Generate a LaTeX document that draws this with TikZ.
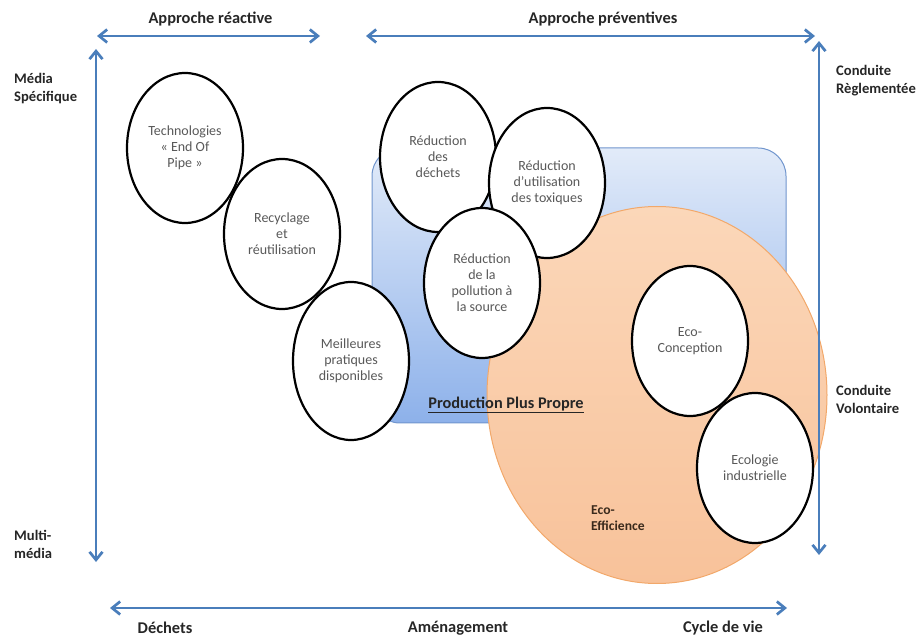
\documentclass[tikz,border=0pt]{standalone}
\usepackage{fontspec}
\setmainfont{Carlito}
\usetikzlibrary{arrows.meta,shapes.geometric}
\definecolor{axisblue}{HTML}{4A7EBB}
\definecolor{rectborder}{HTML}{7095CD}
\definecolor{recttop}{HTML}{E2EBF9}
\definecolor{rectbot}{HTML}{8DB1EA}
\definecolor{orborder}{HTML}{F2A86A}
\definecolor{ortop}{HTML}{FBD7B9}
\definecolor{orbot}{HTML}{F8C29A}
\definecolor{bubbletext}{HTML}{595959}
\definecolor{labtext}{HTML}{262626}
\definecolor{ecotext}{HTML}{3A2A1C}
\begin{document}
\begin{tikzpicture}[x=1pt,y=-1pt,
  >={Straight Barb[length=8pt,width=13pt]},
  axis/.style={draw=axisblue,line width=2.7pt,<->},
  bubble/.style={ellipse,draw=black,line width=2.2pt,fill=white,minimum width=116pt,minimum height=150pt,inner sep=0pt,align=center,text=bubbletext,font=\fontsize{14}{16}\selectfont},
  lab/.style={font=\bfseries\fontsize{16.4}{18}\selectfont,text=labtext,align=left,inner sep=0pt},
  sidelab/.style={font=\bfseries\fontsize{14.6}{18}\selectfont,text=labtext,align=left,inner sep=0pt,anchor=west}]
\useasboundingbox (0,0) rectangle (922,636);
% blue rounded area
\node[rectangle,rounded corners=28pt,draw=rectborder,line width=1pt,top color=recttop,bottom color=rectbot,minimum width=414pt,minimum height=275pt,inner sep=0pt] (ppp) at (579,285.5) {};
% orange circle
\node[ellipse,draw=orborder,line width=1pt,top color=ortop,bottom color=orbot,minimum width=340pt,minimum height=377pt,inner sep=0pt] (eco) at (657,395) {};
% bubbles
\node[bubble] (b1) at (185,148) {Technologies\\« End Of\\Pipe »};
\node[bubble] (b2) at (282,234) {Recyclage\\et\\réutilisation};
\node[bubble,minimum height=158pt] (b3) at (351,361) {Meilleures\\pratiques\\disponibles};
\node[bubble] (b4) at (438,157) {Réduction\\des\\déchets};
\node[bubble] (b5) at (547,183) {Réduction\\d’utilisation\\des toxiques};
\node[bubble] (b6) at (482,283) {Réduction\\de la\\pollution à\\la source};
\node[bubble] (b7) at (690,341) {Eco-\\Conception};
\node[bubble] (b8) at (755,468) {Ecologie\\industrielle};
% inner labels
\node[font=\bfseries\fontsize{16.3}{18}\selectfont,text=labtext,inner sep=0pt] (pptxt) at (506,405) {\underline{Production Plus Propre}};
\node[font=\bfseries\fontsize{13.6}{15.5}\selectfont,text=ecotext,align=left,anchor=west,inner sep=0pt] (ecotxt) at (591,518) {Eco-\\Efficience};
% axes
\coordinate (tl1) at (97,36); \coordinate (tl2) at (320,36);
\coordinate (tr1) at (366,36); \coordinate (tr2) at (815,36);
\coordinate (l1) at (96,49); \coordinate (l2) at (96,562);
\coordinate (r1) at (819,41); \coordinate (r2) at (819,555);
\coordinate (bt1) at (110,608); \coordinate (bt2) at (787,608);
\draw[axis] (tl1) -- (tl2);
\draw[axis] (tr1) -- (tr2);
\draw[axis] (l1) -- (l2);
\draw[axis] (r1) -- (r2);
\draw[axis] (bt1) -- (bt2);
% axis labels
\node[lab] (t1) at (210.5,19) {Approche réactive};
\node[lab] (t2) at (603,19) {Approche préventives};
\node[sidelab] (m1) at (14,89) {Média\\Spécifique};
\node[sidelab] (m2) at (14,544) {Multi-\\média};
\node[sidelab] (c1) at (836,81) {Conduite\\Règlementée};
\node[sidelab] (c2) at (836,399) {Conduite\\Volontaire};
\node[lab] (d1) at (165,628) {Déchets};
\node[lab] (d2) at (458,628) {Aménagement};
\node[lab] (d3) at (723,628) {Cycle de vie};
\end{tikzpicture}
\end{document}
